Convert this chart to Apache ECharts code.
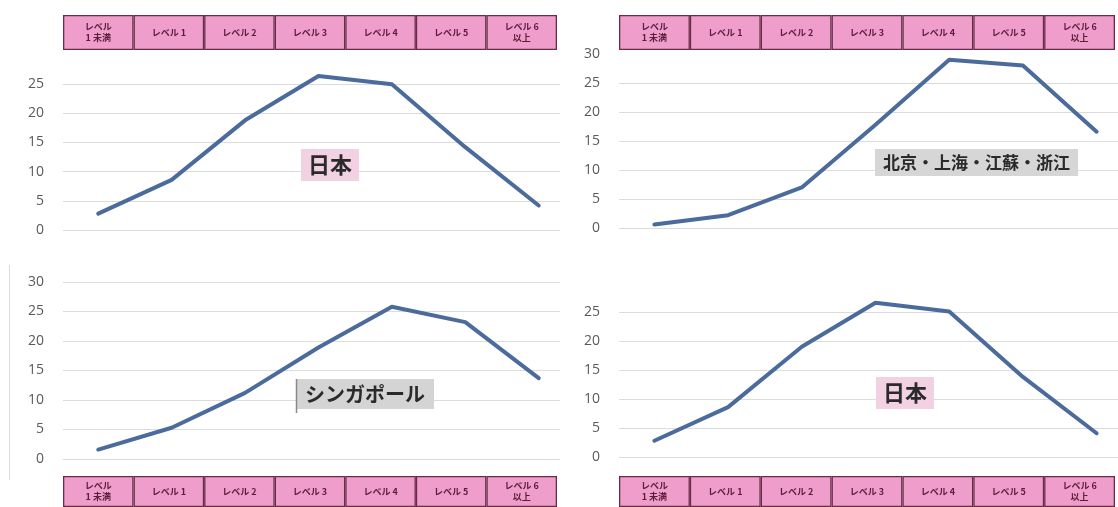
<!DOCTYPE html>
<html>
<head>
<meta charset="utf-8">
<script src="https://cdn.jsdelivr.net/npm/echarts@6/dist/echarts.min.js"></script>
<style>
html,body{margin:0;padding:0;background:#fff;}
#c{width:1118px;height:507px;}
</style>
</head>
<body>
<div id="c"></div>
<script>
// ---- data ----
const categories = ['レベル\n1 未満', 'レベル 1', 'レベル 2', 'レベル 3', 'レベル 4', 'レベル 5', 'レベル 6\n以上'];
const japanTop = [2.8, 8.6, 18.8, 26.4, 25.0, 14.2, 4.2];
const chinaTop = [0.6, 2.2, 7.0, 17.8, 29.0, 28.0, 16.6];
const singapore = [1.6, 5.3, 11.2, 18.9, 25.8, 23.2, 13.7];
const japanBottom = [2.8, 8.6, 19.0, 26.6, 25.1, 13.8, 4.1];
const panelNames = ['日本', '北京・上海・江蘇・浙江', 'シンガポール', '日本'];
const yMin = 0, yMax = 30, yStep = 5;

const chart = echarts.init(document.getElementById('c'));

const lineGrids = [
  {left: 63, top: 55, width: 497, height: 175},
  {left: 619, top: 54, width: 499, height: 174},
  {left: 63, top: 282, width: 497, height: 177},
  {left: 619, top: 283, width: 499, height: 174}
];
const headerGrids = [
  {left: 63, top: 15, width: 494, height: 35},
  {left: 619, top: 15, width: 496, height: 35},
  {left: 63, top: 476, width: 494, height: 35},
  {left: 619, top: 476, width: 496, height: 35}
];
const showMax = [false, true, true, false];
const showMaxLine = [false, false, true, false];
const seriesData = [japanTop, chinaTop, singapore, japanBottom];

const grids = lineGrids.concat(headerGrids);
const xAxes = [], yAxes = [], series = [];

for (let k = 0; k < 4; k++) {
  xAxes.push({
    gridIndex: k, type: 'value', min: -0.48, max: 6.29, show: false,
    splitLine: {show: false}
  });
  yAxes.push({
    gridIndex: k, type: 'value', min: yMin, max: yMax, interval: yStep,
    axisLine: {show: false}, axisTick: {show: false},
    axisLabel: {
      color: '#5a5a5a', fontSize: 14, fontFamily: 'Open Sans', margin: 19,
      showMaxLabel: showMax[k]
    },
    splitLine: {show: true, showMaxLine: showMaxLine[k], lineStyle: {color: '#dcdcdc', width: 1}}
  });
  series.push({
    type: 'line', xAxisIndex: k, yAxisIndex: k,
    data: seriesData[k].map((v, i) => [i, v]),
    symbol: 'none', smooth: false,
    lineStyle: {color: '#4a6b9b', width: 4, cap: 'round', join: 'round'},
    z: 3
  });
}
for (let k = 0; k < 4; k++) {
  const gi = 4 + k;
  xAxes.push({
    gridIndex: gi, type: 'category', data: categories, show: false, boundaryGap: true
  });
  yAxes.push({gridIndex: gi, type: 'value', min: 0, max: 1, show: false});
  series.push({
    type: 'bar', xAxisIndex: gi, yAxisIndex: gi,
    data: categories.map(() => 1),
    barCategoryGap: '0%',
    itemStyle: {color: '#ef9ecb', borderColor: '#6a2a49', borderWidth: 1.3},
    label: {
      show: true, position: 'inside',
      formatter: (p) => categories[p.dataIndex],
      fontSize: 9, fontWeight: 'bold', lineHeight: 11,
      color: '#5a1d3a', fontFamily: 'Noto Sans CJK JP'
    },
    silent: true, z: 5
  });
}

const titleBoxes = [
  {left: 301, top: 149, bg: '#f2d2e2', size: 22, pad: [5, 7]},
  {left: 875, top: 149, bg: '#d6d6d6', size: 17, pad: [5, 8]},
  {left: 296, top: 379, bg: '#d4d4d4', size: 20, pad: [5, 9]},
  {left: 876, top: 377, bg: '#f2d2e2', size: 22, pad: [5, 7]}
];
const titles = titleBoxes.map((t, i) => ({
  text: panelNames[i], left: t.left, top: t.top,
  backgroundColor: t.bg, padding: t.pad,
  textStyle: {fontSize: t.size, fontWeight: 'bold', color: '#2a2a2a', fontFamily: 'Noto Sans CJK JP'},
  z: 10
}));

chart.setOption({
  animation: false,
  backgroundColor: '#ffffff',
  title: titles,
  grid: grids,
  xAxis: xAxes,
  yAxis: yAxes,
  series: series,
  graphic: [
    {type: 'line', shape: {x1: 9.5, y1: 265, x2: 9.5, y2: 480}, style: {stroke: '#dddddd', lineWidth: 1}},
    {type: 'line', shape: {x1: 296.5, y1: 379, x2: 296.5, y2: 413}, style: {stroke: '#8a8a8a', lineWidth: 1.5}, z: 20}
  ]
});
</script>
</body>
</html>
